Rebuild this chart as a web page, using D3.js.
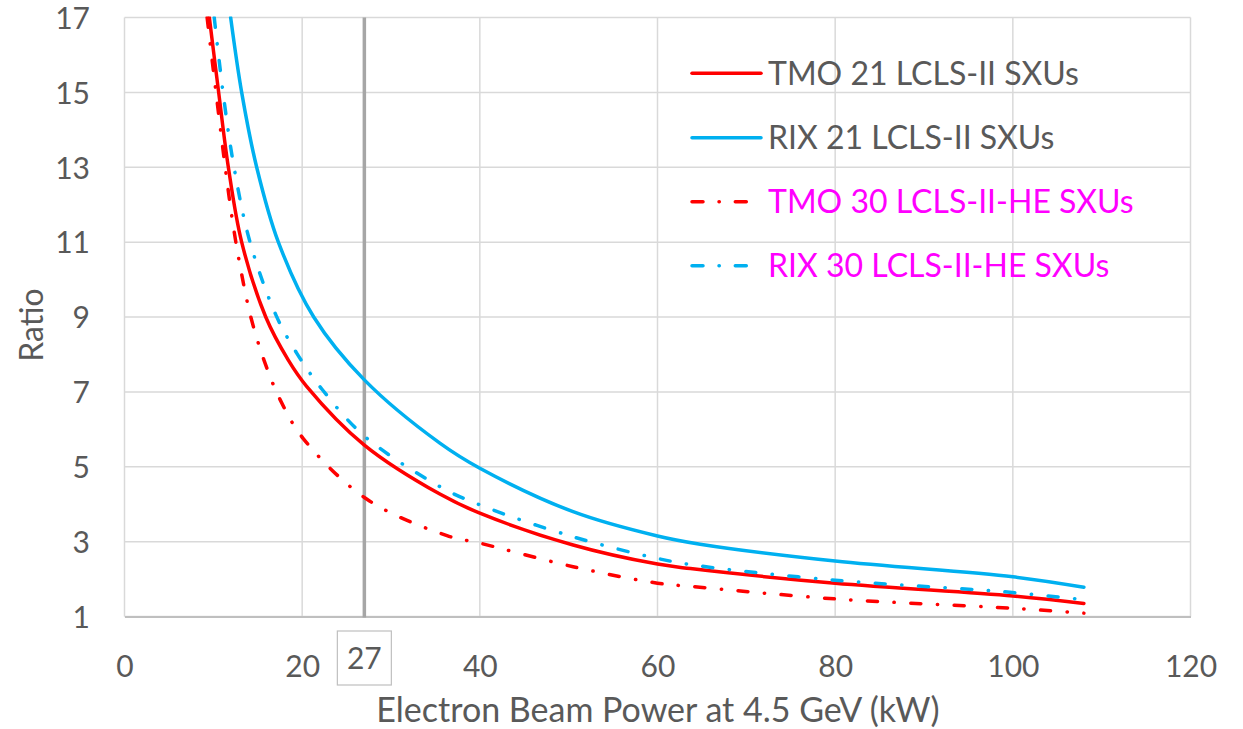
<!DOCTYPE html>
<html>
<head>
<meta charset="utf-8">
<script src="https://cdn.jsdelivr.net/npm/d3@7"></script>
<style>
  html, body { margin: 0; padding: 0; background: #fff; }
  svg { display: block; }
  text { font-family: Lato, "Open Sans", sans-serif; }
</style>
</head>
<body>
<svg id="chart" width="1243" height="729"></svg>
<script>
// ---- data ----
const xTicks = [0, 20, 40, 60, 80, 100, 120];
const yTicks = [1, 3, 5, 7, 9, 11, 13, 15, 17];
const markerPower = 27;

const tmo21 = [[9.55,17],[10.6,15],[11.69,13],[13.19,11],[15.9,9],[18.44,7.85],[20.5,7.15],[27,5.58],[35.5,4.27],[40,3.76],[50.5,2.91],[60,2.40],[63.7,2.28],[80,1.89],[100,1.55],[108,1.35]];
const rix21 = [[11.95,17],[13.19,15],[14.88,13],[17.32,11],[21.3,9],[27,7.32],[35.5,5.63],[40,4.96],[50.5,3.80],[60,3.15],[64.8,2.93],[80,2.48],[100,2.06],[108,1.78]];
const tmo30 = [[9.3,17],[10.38,14.84],[11.62,12.48],[12.33,11.3],[13.19,10.14],[14.24,8.98],[15.7,7.85],[17.5,6.8],[20.1,5.76],[27.3,4.13],[36.3,3.16],[40,2.96],[50.5,2.33],[60,1.89],[64,1.80],[80,1.47],[100,1.22],[108,1.09]];
const rix30 = [[10.1,17],[11.2,14.8],[12.33,13],[14.13,11],[17.05,9.05],[19.4,8.03],[22.3,7.05],[27,5.82],[35.5,4.47],[40,3.98],[50.5,3.13],[60,2.55],[64.8,2.35],[80,1.97],[99,1.66],[108,1.45]];

const seriesNames = ["TMO 21 LCLS-II SXUs", "RIX 21 LCLS-II SXUs", "TMO 30 LCLS-II-HE SXUs", "RIX 30 LCLS-II-HE SXUs"];
const seriesData = [tmo21, rix21, tmo30, rix30];
const seriesColors = ["#FF0000", "#00B0F0", "#FF0000", "#00B0F0"];
const seriesDashed = [false, false, true, true];
const legendTextColors = ["#595959", "#595959", "#FF00FF", "#FF00FF"];

const xTitle = "Electron Beam Power at 4.5 GeV (kW)";
const yTitle = "Ratio";

// ---- drawing ----
const svg = d3.select("#chart");
const x = d3.scaleLinear().domain([0, 120]).range([124.5, 1190.5]);
const y = d3.scaleLinear().domain([1, 17]).range([616.5, 17.5]);
const dashPattern = "10,16.5,0.3,16.5";

svg.append("defs").append("clipPath").attr("id", "plotclip")
  .append("rect").attr("x", x(0)).attr("y", y(17) - 1)
  .attr("width", x(120) - x(0)).attr("height", y(1) - y(17) + 2);

// grid
const grid = svg.append("g");
grid.selectAll("line.h").data(yTicks).join("line")
  .attr("x1", x(0)).attr("x2", x(120))
  .attr("y1", d => y(d)).attr("y2", d => y(d))
  .attr("stroke", "#D9D9D9").attr("stroke-width", 1.5);
grid.selectAll("line.v").data(xTicks).join("line")
  .attr("y1", y(17)).attr("y2", y(1))
  .attr("x1", d => x(d)).attr("x2", d => x(d))
  .attr("stroke", "#D9D9D9").attr("stroke-width", 1.5);

// bottom axis
const xAxis = d3.axisBottom(x).tickValues(xTicks).tickSize(0).tickPadding(0);
const gx = svg.append("g").attr("transform", `translate(0,${y(1)})`).call(xAxis);
gx.select(".domain").attr("stroke", "#BFBFBF").attr("stroke-width", 2);
gx.selectAll("text").attr("font-size", 30).attr("fill", "#595959")
  .attr("dy", null).attr("y", 60).attr("font-family", "Lato, sans-serif");

// left axis labels
const yAxis = d3.axisLeft(y).tickValues(yTicks).tickSize(0).tickPadding(0);
const gy = svg.append("g").attr("transform", `translate(90,0)`).call(yAxis);
gy.select(".domain").remove();
gy.selectAll("text").attr("font-size", 30).attr("fill", "#595959")
  .attr("dy", "0.36em").attr("font-family", "Lato, sans-serif");

// marker line at 27 kW
svg.append("line")
  .attr("x1", x(markerPower)).attr("x2", x(markerPower))
  .attr("y1", y(17)).attr("y2", y(1) + 1)
  .attr("stroke", "#A6A6A6").attr("stroke-width", 3.5);

// 27 label with box
const g27 = svg.append("g");
g27.append("rect").attr("x", x(markerPower) - 27).attr("y", 631)
  .attr("width", 54).attr("height", 54)
  .attr("fill", "none").attr("stroke", "#BFBFBF").attr("stroke-width", 1.2);
g27.append("text").attr("x", x(markerPower)).attr("y", 669)
  .attr("text-anchor", "middle").attr("font-size", 30).attr("fill", "#595959")
  .text(markerPower);

// lines
const line = d3.line().x(d => x(d[0])).y(d => y(d[1])).curve(d3.curveCatmullRom.alpha(0.5));
const lines = svg.append("g").attr("clip-path", "url(#plotclip)");
seriesData.forEach((data, i) => {
  lines.append("path").datum(data)
    .attr("d", line)
    .attr("fill", "none")
    .attr("stroke", seriesColors[i])
    .attr("stroke-width", 3.5)
    .attr("stroke-linecap", "round")
    .attr("stroke-dasharray", seriesDashed[i] ? dashPattern : null);
});

// legend
const legendY = [73.3, 137.7, 201.7, 265.7];
const lg = svg.append("g");
seriesNames.forEach((name, i) => {
  lg.append("line").attr("x1", 692).attr("x2", 761)
    .attr("y1", legendY[i]).attr("y2", legendY[i])
    .attr("stroke", seriesColors[i]).attr("stroke-width", 3.5)
    .attr("stroke-linecap", "round")
    .attr("stroke-dasharray", seriesDashed[i] ? "11,16,0.3,16" : null);
  lg.append("text").attr("x", 768).attr("y", legendY[i])
    .attr("dy", "0.35em").attr("font-size", 32)
    .attr("fill", legendTextColors[i]).text(name);
});

// axis titles
svg.append("text").attr("x", 658).attr("y", 722)
  .attr("text-anchor", "middle").attr("font-size", 34).attr("fill", "#595959")
  .text(xTitle);
svg.append("text").attr("transform", "translate(43,325) rotate(-90)")
  .attr("text-anchor", "middle").attr("font-size", 32).attr("fill", "#595959")
  .text(yTitle);
</script>
</body>
</html>
